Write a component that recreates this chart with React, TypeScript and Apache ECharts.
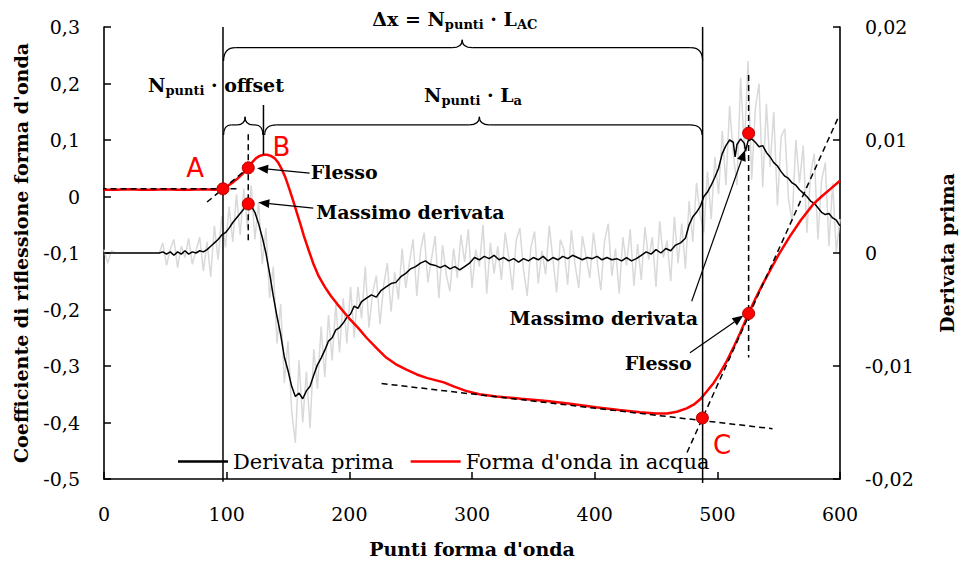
import React, { useEffect, useRef } from 'react';
import * as echarts from 'echarts';

// ---------- data ----------
const redX = [0, 10, 20, 30, 40, 50, 60, 70, 80, 90, 95, 97, 101, 105, 109, 113, 117.6, 121, 124, 127, 130, 133, 136, 139, 142, 145, 148, 151, 154, 157, 160, 163, 167, 171, 175, 180, 185, 190, 195, 200, 207, 214, 222, 230, 238, 247, 255, 263, 270, 277, 285, 295, 306, 320, 340, 361, 380, 401, 420, 437, 450, 459, 467, 475, 481, 486, 491, 497, 502, 508, 513, 518.5, 525.3, 531, 537, 543, 550, 559, 568, 578, 585, 592, 600];
const redY = [0.012, 0.012, 0.013, 0.012, 0.012, 0.013, 0.012, 0.012, 0.013, 0.012, 0.013, 0.0136, 0.019, 0.025, 0.032, 0.040, 0.051, 0.061, 0.068, 0.072, 0.074, 0.074, 0.072, 0.068, 0.060, 0.048, 0.033, 0.014, -0.006, -0.027, -0.048, -0.070, -0.096, -0.121, -0.141, -0.160, -0.176, -0.190, -0.203, -0.216, -0.232, -0.250, -0.268, -0.285, -0.297, -0.307, -0.315, -0.321, -0.325, -0.329, -0.336, -0.344, -0.350, -0.354, -0.358, -0.362, -0.367, -0.373, -0.378, -0.382, -0.384, -0.384, -0.381, -0.375, -0.368, -0.359, -0.346, -0.330, -0.313, -0.290, -0.268, -0.242, -0.208, -0.181, -0.155, -0.131, -0.103, -0.071, -0.042, -0.014, 0.0, 0.013, 0.028];

const derivX = [0, 5, 10, 15, 20, 25, 30, 35, 40, 45, 48, 51, 54, 57, 60, 63, 66, 69, 72, 75, 78, 81, 84, 87, 90, 93, 96, 99, 102, 105, 108, 111, 114, 117, 120, 123, 126, 129, 132, 135, 138, 141, 144, 147, 150, 153, 156, 159, 162, 165, 168, 171, 174, 177, 180, 183, 186, 189, 192, 195, 198, 201, 204, 207, 210, 214, 218, 222, 226, 230, 234, 238, 242, 246, 250, 254, 258, 262, 266, 270, 274, 278, 282, 286, 290, 294, 298, 302, 306, 310, 314, 318, 322, 326, 330, 334, 338, 342, 346, 350, 354, 358, 362, 366, 370, 374, 378, 382, 386, 390, 394, 398, 402, 406, 410, 414, 418, 422, 426, 430, 434, 438, 442, 446, 450, 454, 458, 462, 466, 470, 474, 477, 480, 483, 486, 489, 492, 495, 498, 501, 504, 507, 510, 513, 514.5, 516, 519, 522, 523, 525, 528, 531, 534, 537, 540, 543, 546, 549, 552, 555, 558, 561, 564, 567, 570, 573, 576, 579, 582, 585, 588, 591, 594, 597, 600];
const derivY = [0, 0, 0, 0, 0, 0, 0, 0, 0, 0, 0.0001, -0.0001, 0.0001, -0.0002, 0.0001, -0.0001, 0.0002, -0.0001, 0.0001, 0, 0.0002, 0.0001, 0.0003, 0.0006, 0.0009, 0.0012, 0.0016, 0.0018, 0.0022, 0.0027, 0.0031, 0.0035, 0.0039, 0.0044, 0.0042, 0.0036, 0.0026, 0.0014, 0.0000, -0.0018, -0.0038, -0.0056, -0.0072, -0.0092, -0.0104, -0.0118, -0.0127, -0.0124, -0.0129, -0.0122, -0.0118, -0.0108, -0.0099, -0.0093, -0.0086, -0.0078, -0.0075, -0.0068, -0.0066, -0.0062, -0.0057, -0.0054, -0.0047, -0.0049, -0.0043, -0.0040, -0.0037, -0.0039, -0.0033, -0.0030, -0.0027, -0.0026, -0.0021, -0.0018, -0.0014, -0.0012, -0.0009, -0.0007, -0.0010, -0.0011, -0.0013, -0.0011, -0.0014, -0.0012, -0.0015, -0.0012, -0.0009, -0.0004, -0.0006, -0.0003, -0.0005, -0.0002, -0.0006, -0.0004, -0.0007, -0.0005, -0.0008, -0.0005, -0.0007, -0.0004, -0.0006, -0.0003, -0.0007, -0.0004, -0.0006, -0.0003, -0.0005, -0.0002, -0.0004, -0.0006, -0.0004, -0.0005, -0.0003, -0.0006, -0.0004, -0.0006, -0.0005, -0.0007, -0.0004, -0.0007, -0.0005, -0.0002, 0.0001, -0.0001, 0.0003, 0.0000, 0.0004, 0.0002, 0.0007, 0.0009, 0.0013, 0.0025, 0.0032, 0.0036, 0.0041, 0.0050, 0.0054, 0.0060, 0.0067, 0.0075, 0.0088, 0.0095, 0.0100, 0.0098, 0.0085, 0.0096, 0.0101, 0.0097, 0.0090, 0.0099, 0.0101, 0.0098, 0.0094, 0.0095, 0.0089, 0.0085, 0.0080, 0.0077, 0.0072, 0.0068, 0.0066, 0.0062, 0.0060, 0.0056, 0.0053, 0.0050, 0.0046, 0.0044, 0.0040, 0.0036, 0.0034, 0.0035, 0.0031, 0.0029, 0.0024];

// raw (unsmoothed) derivative, sampled every 3 points from 0 to 600
const rawStart = 0;
const rawStep = 3;
const rawY = [
  0.0003, -0.0009, 0.0002,
  0, 0, 0, 0, 0, 0, 0, 0, 0, 0, 0, 0, 0,
  0.0009, -0.0011, 0.0003, 0.0012, -0.0013, 0.0006, -0.0004, 0.0013, -0.0010, 0.0002, 0.0014, -0.0016, 0.0010,
  -0.0021, 0.0024, -0.0006, 0.0033, 0.0005, 0.0041, 0.0010, 0.0052, 0.0016, 0.0057, 0.0022, 0.0060, 0.0012,
  0.0045, -0.0010, 0.0022, -0.0040, -0.0012, -0.0080, -0.0045, -0.0115, -0.0078, -0.0140, -0.0168, -0.0095, -0.0150,
  -0.0105, -0.0155, -0.0085, -0.0120, -0.0065, -0.0110, -0.0055, -0.0095, -0.0045, -0.0088, -0.0040, -0.0080, -0.0030,
  -0.0075, -0.0030, -0.0058, -0.0012, -0.0066, -0.0035, -0.0020, -0.0063, -0.0028, -0.0009, -0.0052, -0.0017, -0.0041,
  0.0004, -0.0031, -0.0008, 0.0012, -0.0038, 0.0002, 0.0018, -0.0026, -0.0005, 0.0015, -0.0040, 0.0007, -0.0019,
  -0.0034, 0.0004, -0.0022, 0.0016, -0.0008, 0.0021, -0.0031, 0.0003, -0.0012, 0.0025, -0.0036, 0.0009, -0.0018,
  0.0006, -0.0024, 0.0018, -0.0004, -0.0033, 0.0011, 0.0022, -0.0015, -0.0038, 0.0005, 0.0019, -0.0027, 0.0002,
  -0.0019, 0.0024, -0.0006, -0.0035, 0.0012, 0.0003, -0.0028, 0.0020, -0.0010, -0.0031, 0.0015, -0.0003, -0.0022,
  0.0018, -0.0007, -0.0033, 0.0010, 0.0026, -0.0020, 0.0004, -0.0036, 0.0014, -0.0011, 0.0021, -0.0029, 0.0008,
  -0.0024, 0.0023, -0.0006, 0.0014, -0.0030, 0.0028, -0.0004, 0.0011, -0.0025, 0.0032, -0.0009, 0.0026, -0.0014,
  0.0046, 0.0010, 0.0062, 0.0034, 0.0018, 0.0072, 0.0030, 0.0085, 0.0052, 0.0108, 0.0060, 0.0130, 0.0088,
  0.0060, 0.0155, 0.0092, 0.0170, 0.0065, 0.0128, 0.0150, 0.0058, 0.0132, 0.0076, 0.0125, 0.0042, 0.0103,
  0.0110, 0.0048, 0.0028, 0.0100, 0.0062, 0.0095, 0.0018, 0.0070, 0.0088, 0.0012, 0.0064, 0.0080, 0.0006,
  0.0062, 0.0001, 0.0030,
];

// construction lines (data coordinates on the left axis)
const dashedSegments = [
  [[-11, 0.0136], [108, 0.0136]],
  [[84, -0.0098], [117.6, 0.0507]],
  [[117.6, 0.11], [117.6, -0.078]],
  [[525.5, 0.215], [525.5, -0.285]],
  [[475.3, -0.453], [598.4, 0.139]],
  [[226.3, -0.331], [545, -0.411]],
];
const solidSegments = [
  [[97, 0.3], [97, -0.505]],
  [[488, 0.3], [488, -0.507]],
  [[130, 0.162], [130, 0.074]],
];
// key points
const pointsLeft = [[97, 0.0136], [117.6, 0.0507], [525.5, -0.207], [487.8, -0.392]];
const pointsRight = [[117.6, 0.00435], [525.5, 0.0106]];

const braces = [
  { x1: 97.5, x2: 488, xm: 292, yEnd: 0.240, yLine: 0.2634, yTip: 0.2776 },
  { x1: 97.5, x2: 129.5, xm: 115, yEnd: 0.109, yLine: 0.1267, yTip: 0.141 },
  { x1: 131, x2: 487.5, xm: 306, yEnd: 0.109, yLine: 0.1267, yTip: 0.141 },
];
const arrows = [
  { from: [167.6, 0.0413], to: [124.8, 0.0502] },
  { from: [170.6, -0.0205], to: [125.8, -0.0106] },
  { from: [479.1, -0.1855], to: [522.6, 0.0825] },
  { from: [477.7, -0.2767], to: [521.2, -0.2108] },
];
const notes = [
  { text: 'Flesso', x: 168.5, y: 0.0437, align: 'left' },
  { text: 'Massimo derivata', x: 173, y: -0.027, align: 'left' },
  { text: 'Massimo derivata', x: 484.2, y: -0.2145, align: 'right' },
  { text: 'Flesso', x: 479, y: -0.294, align: 'right' },
];
const letters = [
  { text: 'A', x: 74.2, y: 0.05 },
  { text: 'B', x: 144.7, y: 0.087 },
  { text: 'C', x: 503.8, y: -0.44 },
];
const formulas = [
  { text: '{m|Δx = N}{s|punti}{m| · L}{s|AC}', x: 286, y: 0.3147 },
  { text: '{m|N}{s|punti}{m| · offset}', x: 91.3, y: 0.197 },
  { text: '{m|N}{s|punti}{m| · L}{s|a}', x: 300.8, y: 0.18 },
];

const SERIF = '"DejaVu Serif", "Liberation Serif", serif';
const SANS = '"DejaVu Sans", "Liberation Sans", sans-serif';

const fmt = (d: number) => (v: number) => (Math.abs(v) < 1e-9 ? '0' : v.toFixed(d).replace('.', ','));

function buildOption(): any {
  const red = redX.map((x, i) => [x, redY[i]]);
  const deriv = derivX.map((x, i) => [x, derivY[i]]);
  const raw = rawY.map((y, i) => [rawStart + i * rawStep, y]);

  const axisCommon = {
    axisTick: { show: true, inside: true, length: 7, lineStyle: { color: '#000', width: 1.5 } },
    splitLine: { show: false },
  };
  const axisLine = { show: true, onZero: false, lineStyle: { color: '#000', width: 1.6 } };
  const nameStyle = { fontFamily: SERIF, fontWeight: 'bold', fontSize: 19, color: '#000' };
  const labelStyle = { fontFamily: SERIF, fontSize: 19, color: '#000' };

  const dashed = dashedSegments.map((seg) => ({
    type: 'line', data: seg, symbol: 'none', clip: false, silent: true, z: 4,
    lineStyle: { color: '#000', width: 1.5, type: [6, 4] },
  }));
  const solid = solidSegments.map((seg) => ({
    type: 'line', data: seg, symbol: 'none', clip: false, silent: true, z: 4,
    lineStyle: { color: '#000', width: 1.5 },
  }));

  const renderItem = (_params: any, api: any) => {
    const P = (x: number, y: number) => api.coord([x, y]);
    const children: any[] = [];
    const stroke = { stroke: '#000', lineWidth: 1.2, fill: 'none' };
    braces.forEach((b) => {
      const [x1, yE] = P(b.x1, b.yEnd);
      const [x2] = P(b.x2, b.yEnd);
      const [xm, yL] = P(b.xm, b.yLine);
      const yT = P(b.xm, b.yTip)[1];
      const r = Math.min(12, (x2 - x1) / 5);
      const rt = Math.min(10, (x2 - x1) / 5);
      children.push(
        { type: 'bezierCurve', shape: { x1, y1: yE, cpx1: x1, cpy1: yL, x2: x1 + r, y2: yL }, style: stroke },
        { type: 'line', shape: { x1: x1 + r, y1: yL, x2: xm - rt, y2: yL }, style: stroke },
        { type: 'bezierCurve', shape: { x1: xm - rt, y1: yL, cpx1: xm, cpy1: yL, x2: xm, y2: yT }, style: stroke },
        { type: 'bezierCurve', shape: { x1: xm, y1: yT, cpx1: xm, cpy1: yL, x2: xm + rt, y2: yL }, style: stroke },
        { type: 'line', shape: { x1: xm + rt, y1: yL, x2: x2 - r, y2: yL }, style: stroke },
        { type: 'bezierCurve', shape: { x1: x2 - r, y1: yL, cpx1: x2, cpy1: yL, x2, y2: yE }, style: stroke },
      );
    });
    arrows.forEach((a) => {
      const [sx, sy] = P(a.from[0], a.from[1]);
      const [tx, ty] = P(a.to[0], a.to[1]);
      const dx = tx - sx, dy = ty - sy;
      const len = Math.sqrt(dx * dx + dy * dy);
      const ux = dx / len, uy = dy / len;
      const hl = 11, hw = 4.5;
      const bx = tx - ux * hl, by = ty - uy * hl;
      children.push(
        { type: 'line', shape: { x1: sx, y1: sy, x2: bx, y2: by }, style: { stroke: '#000', lineWidth: 1.2 } },
        { type: 'polygon', shape: { points: [[tx, ty], [bx - uy * hw, by + ux * hw], [bx + uy * hw, by - ux * hw]] }, style: { fill: '#000' } },
      );
    });
    notes.forEach((n) => {
      const [x, y] = P(n.x, n.y);
      children.push({ type: 'text', x, y, style: { text: n.text, fill: '#000', fontFamily: SERIF, fontWeight: 'bold', fontSize: 19, align: n.align, verticalAlign: 'middle' } });
    });
    letters.forEach((n) => {
      const [x, y] = P(n.x, n.y);
      children.push({ type: 'text', x, y, style: { text: n.text, fill: '#ff0000', fontFamily: SANS, fontSize: 26, align: 'center', verticalAlign: 'middle' } });
    });
    formulas.forEach((f) => {
      const [x, y] = P(f.x, f.y);
      children.push({
        type: 'text', x, y,
        style: {
          text: f.text, align: 'center', verticalAlign: 'middle',
          rich: {
            m: { fontFamily: SERIF, fontWeight: 'bold', fontSize: 19, fill: '#000', lineHeight: 24, verticalAlign: 'middle' },
            s: { fontFamily: SERIF, fontWeight: 'bold', fontSize: 13, fill: '#000', lineHeight: 10, verticalAlign: 'bottom' },
          },
        },
      });
    });
    return { type: 'group', children };
  };

  return {
    animation: false,
    backgroundColor: '#ffffff',
    grid: { left: 104, right: 122, top: 27, bottom: 89, containLabel: false, outerBoundsMode: 'none' },
    legend: {
      left: 173, top: 446, itemWidth: 50, itemHeight: 2.5, itemGap: 17, selectedMode: false,
      icon: 'rect',
      data: ['Derivata prima', "Forma d'onda in acqua"],
      textStyle: { fontFamily: SERIF, fontSize: 21, color: '#000' },
    },
    xAxis: {
      type: 'value', min: 0, max: 600, interval: 100,
      name: "Punti forma d'onda", nameLocation: 'middle', nameGap: 60, nameTextStyle: nameStyle,
      axisLabel: { ...labelStyle, margin: 25 },
      axisLine,
      ...axisCommon,
    },
    yAxis: [
      {
        type: 'value', min: -0.5, max: 0.3, interval: 0.1, position: 'left',
        name: "Coefficiente di riflessione forma d'onda", nameLocation: 'middle', nameRotate: 90, nameGap: 74, nameTextStyle: nameStyle,
        axisLabel: { ...labelStyle, margin: 24, formatter: fmt(1) },
        axisLine,
        ...axisCommon,
      },
      {
        type: 'value', min: -0.02, max: 0.02, interval: 0.01, position: 'right',
        name: 'Derivata prima', nameLocation: 'middle', nameRotate: 90, nameGap: 97, nameTextStyle: nameStyle,
        axisLabel: { ...labelStyle, margin: 25, formatter: fmt(2) },
        axisLine,
        ...axisCommon,
      },
    ],
    series: [
      { type: 'line', name: 'raw', yAxisIndex: 1, data: raw, symbol: 'none', silent: true, z: 1, lineStyle: { color: '#d9d9d9', width: 1.5 } },
      { type: 'line', name: 'Derivata prima', yAxisIndex: 1, data: deriv, symbol: 'none', silent: true, z: 2, color: '#000', lineStyle: { color: '#000', width: 1.5 } },
      { type: 'line', name: "Forma d'onda in acqua", yAxisIndex: 0, data: red, symbol: 'none', silent: true, z: 3, color: '#ff0000', lineStyle: { color: '#ff0000', width: 2.5 } },
      ...dashed,
      ...solid,
      { type: 'custom', xAxisIndex: 0, yAxisIndex: 0, data: [[0, 0]], renderItem, silent: true, z: 6, clip: false },
      { type: 'scatter', yAxisIndex: 0, data: pointsLeft, symbolSize: 12, silent: true, z: 8, itemStyle: { color: '#ff0000', borderColor: '#b00000', borderWidth: 1, opacity: 1 } },
      { type: 'scatter', yAxisIndex: 1, data: pointsRight, symbolSize: 12, silent: true, z: 8, itemStyle: { color: '#ff0000', borderColor: '#b00000', borderWidth: 1, opacity: 1 } },
    ],
  };
}

export default function App() {
  const ref = useRef<HTMLDivElement>(null);
  useEffect(() => {
    if (!ref.current) return;
    const chart = echarts.init(ref.current, undefined, { renderer: 'svg' });
    chart.setOption(buildOption());
    return () => chart.dispose();
  }, []);
  return (
    <div style={{ position: 'absolute', left: 0, top: 0, width: 962, height: 568, background: '#fff' }}>
      <div ref={ref} style={{ width: 962, height: 568 }} />
    </div>
  );
}
